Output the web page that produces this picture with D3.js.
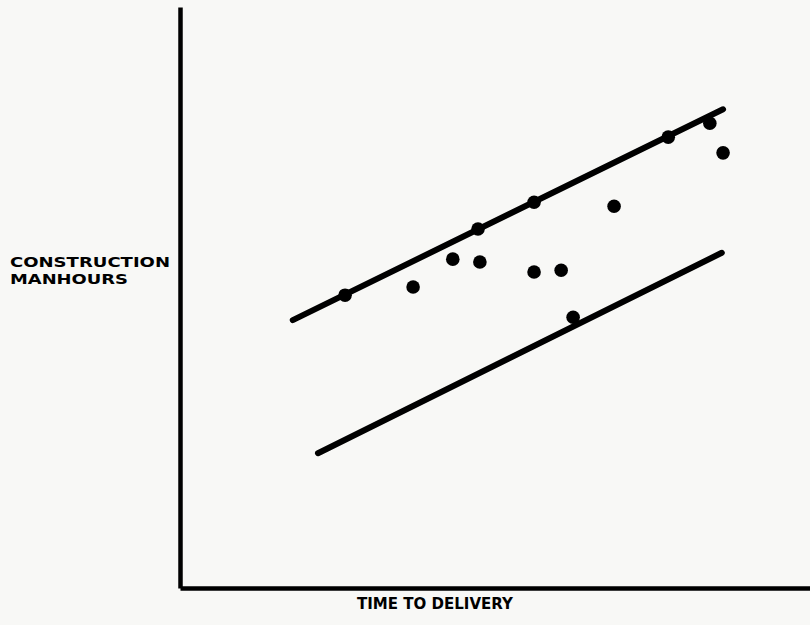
<!DOCTYPE html>
<html>
<head>
<meta charset="utf-8">
<script src="https://cdn.jsdelivr.net/npm/d3@7"></script>
<style>
  body { margin: 0; background: #f8f8f6; }
  svg { display: block; }
  .lbl { font-family: "DejaVu Sans", sans-serif; font-weight: bold; fill: #000; }
</style>
</head>
<body>
<div id="chart"></div>
<script>
// observed points (time to delivery, manhours), arbitrary units 0-100
var timeVals  = [26.2, 37.0, 43.3, 47.6, 47.3, 56.2, 56.2, 60.5, 68.9, 62.4, 77.5, 84.1, 86.2];
var hoursVals = [50.4, 51.8, 56.6, 56.1, 61.8, 66.4, 54.4, 54.7, 65.7, 46.6, 77.6, 80.0, 74.9];

// upper and lower bounding lines [start, end]
var upperX = [17.9, 86.2], upperY = [46.1, 82.4];
var lowerX = [21.9, 86.0], lowerY = [23.2, 57.7];

var yLabel = ["CONSTRUCTION", "MANHOURS"];
var xLabel = "TIME TO DELIVERY";

var width = 810, height = 625;

var x = d3.scaleLinear().domain([0, 100]).range([180, 810]);
var y = d3.scaleLinear().domain([0, 100]).range([588, 7]);

var svg = d3.select("#chart").append("svg")
    .attr("width", width)
    .attr("height", height);

var xAxis = d3.axisBottom(x).ticks(0).tickSizeOuter(0);
var yAxis = d3.axisLeft(y).ticks(0).tickSizeOuter(0);

svg.append("g")
    .attr("transform", "translate(0," + y(0) + ")")
    .call(xAxis)
  .select(".domain")
    .attr("stroke", "#000")
    .attr("stroke-width", 4.5);

svg.append("g")
    .attr("transform", "translate(" + x(0) + ",0)")
    .call(yAxis)
  .select(".domain")
    .attr("stroke", "#000")
    .attr("stroke-width", 4.5);

var line = d3.line()
    .x(function(d) { return x(d[0]); })
    .y(function(d) { return y(d[1]); });

[[upperX, upperY], [lowerX, lowerY]].forEach(function(l) {
  svg.append("path")
      .datum(d3.zip(l[0], l[1]))
      .attr("d", line)
      .attr("fill", "none")
      .attr("stroke", "#000")
      .attr("stroke-width", 6)
      .attr("stroke-linecap", "round");
});

svg.selectAll(".dot")
    .data(d3.zip(timeVals, hoursVals))
  .enter().append("circle")
    .attr("class", "dot")
    .attr("cx", function(d) { return x(d[0]); })
    .attr("cy", function(d) { return y(d[1]); })
    .attr("r", 6.8)
    .attr("fill", "#000");

svg.selectAll(".ylab")
    .data(yLabel)
  .enter().append("text")
    .attr("class", "lbl")
    .attr("x", 10)
    .attr("y", function(d, i) { return 267 + i * 16.5; })
    .attr("font-size", 14)
    .attr("textLength", function(d, i) { return i ? 118 : 160; })
    .attr("lengthAdjust", "spacingAndGlyphs")
    .text(function(d) { return d; });

svg.append("text")
    .attr("class", "lbl")
    .attr("x", 357)
    .attr("y", 609)
    .attr("font-size", 15)
    .attr("textLength", 156)
    .attr("lengthAdjust", "spacingAndGlyphs")
    .text(xLabel);
</script>
</body>
</html>
